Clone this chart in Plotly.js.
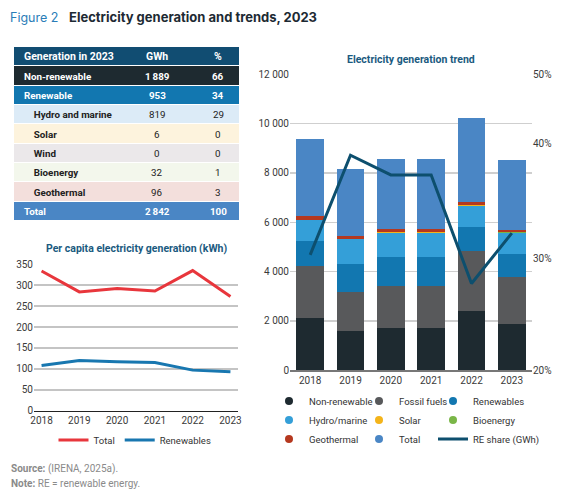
<!DOCTYPE html>
<html>
<head>
<meta charset="utf-8">
<script src="https://cdn.plot.ly/plotly-3.0.1.min.js"></script>
<style>
  html, body { margin: 0; padding: 0; background: #ffffff; }
  #chart { width: 564px; height: 499px; }
</style>
</head>
<body>
<div id="chart"></div>
<script>
// ---------- data ----------
const years = ['2018', '2019', '2020', '2021', '2022', '2023'];

// Per capita electricity generation (kWh)
const perCapitaTotal = [334, 284, 292, 286, 335, 273];
const perCapitaRenewables = [108, 120, 117, 115, 97, 93];

// Electricity generation trend (GWh), stacked as in the source figure
const nonRenewable = [2133, 1595, 1715, 1715, 2404, 1889];
const fossilFuels = [2095, 1580, 1715, 1715, 2432, 1889];
const renewables = [1013, 1135, 1176, 1176, 972, 953];
const hydroMarine = [851, 1000, 974, 974, 865, 819];
const solar = [3, 12, 35, 35, 25, 6];
const bioenergy = [5, 20, 12, 12, 10, 32];
const geothermal = [165, 100, 100, 100, 125, 96];
const totalGen = [3111, 2730, 2840, 2840, 3405, 2842];
const reShare = [31.7, 41.8, 39.8, 39.8, 28.8, 33.9];

// Table: generation in 2023
const tableHeader = ['Generation in 2023', 'GWh', '%'];
const tableLabels = ['Non-renewable', 'Renewable', 'Hydro and marine', 'Solar', 'Wind', 'Bioenergy', 'Geothermal', 'Total'];
const tableGWh = ['1\u2009889', '953', '819', '6', '0', '32', '96', '2\u2009842'];
const tablePct = ['66', '34', '29', '0', '0', '1', '3', '100'];

// right axis labels
const shareTickText = ['20%', '30%', '40%', '50%'];

// ---------- styling ----------
const W = 564, H = 499;
const px = v => v / W;
const py = v => 1 - v / H;
const FONT = 'Roboto, sans-serif';
const C = {
  nonRen: '#1e2a30', fossil: '#58595b', ren: '#1277b0', hydro: '#349fd8',
  solar: '#f4b41a', bio: '#7ab648', geo: '#b5381f', total: '#4a86c5',
  share: '#0d4f6e', red: '#e8363c', blue: '#1877b0', titleBlue: '#1a5a80'
};

// table row styling (header + 8 rows)
const rowFill = ['#114d72', '#1e2a30', '#1277b0', '#dcebf7', '#fdf3dd', '#ebe8ea', '#f3f7ec', '#f3dfdc', '#4a86c5'];
const rowFont = ['#ffffff', '#ffffff', '#ffffff', '#222222', '#222222', '#222222', '#222222', '#222222', '#ffffff'];
const subRow = [false, false, false, true, true, true, true, true, false];
const darkRow = [true, true, true, false, false, false, false, false, true];
const colPos = [0.034, 0.636, 0.907];   // within table domain: left text start, GWh center, % center

const traces = [];

// table background rows: heatmap with one column, one row per table line
const rowCol1 = [tableHeader[0]].concat(tableLabels);
const rowCol2 = [tableHeader[1]].concat(tableGWh);
const rowCol3 = [tableHeader[2]].concat(tablePct);
const rowIdx = rowCol1.map((_, i) => i);
const nRows = rowIdx.length;
traces.push({
  type: 'heatmap', x: [0], y: rowIdx, z: rowIdx.map(i => [i]),
  xaxis: 'x3', yaxis: 'y4', zmin: 0, zmax: nRows - 1,
  colorscale: rowFill.map((c, i) => [i / (nRows - 1), c]),
  showscale: false, ygap: 1, hoverinfo: 'skip'
});

// per capita lines
traces.push({
  type: 'scatter', mode: 'lines', name: 'Total', x: years, y: perCapitaTotal,
  xaxis: 'x', yaxis: 'y', line: { color: C.red, width: 3 }, legend: 'legend', legendrank: 1
});
traces.push({
  type: 'scatter', mode: 'lines', name: 'Renewables', x: years, y: perCapitaRenewables,
  xaxis: 'x', yaxis: 'y', line: { color: C.blue, width: 3 }, legend: 'legend', legendrank: 2
});

// stacked bars
const barSeries = [
  ['Non-renewable', nonRenewable, C.nonRen, 'legend2', 1],
  ['Fossil fuels', fossilFuels, C.fossil, 'legend3', 1],
  ['Renewables', renewables, C.ren, 'legend4', 1],
  ['Hydro/marine', hydroMarine, C.hydro, 'legend2', 2],
  ['Solar', solar, C.solar, 'legend3', 2],
  ['Bioenergy', bioenergy, C.bio, 'legend4', 2],
  ['Geothermal', geothermal, C.geo, 'legend2', 3],
  ['Total', totalGen, C.total, 'legend3', 3]
];
barSeries.forEach(([name, vals, color]) => {
  traces.push({
    type: 'bar', name: name, x: years, y: vals, xaxis: 'x2', yaxis: 'y2',
    marker: { color: color, line: { width: 0 } }, showlegend: false,
    hovertemplate: name + ' %{x}: %{y}<extra></extra>'
  });
});
// RE share line
traces.push({
  type: 'scatter', mode: 'lines', name: 'RE share (GWh)', x: years, y: reShare,
  xaxis: 'x2', yaxis: 'y3', line: { color: C.share, width: 3 },
  legend: 'legend4', legendrank: 3
});
// legend markers (circles) for the bar series
barSeries.forEach(([name, vals, color, lg, rank]) => {
  traces.push({
    type: 'scatter', mode: 'markers', name: name, x: [null], y: [null],
    xaxis: 'x2', yaxis: 'y2', marker: { color: color, size: 8, symbol: 'circle' },
    legend: lg, legendrank: rank, hoverinfo: 'skip'
  });
});

const tickFont = { family: FONT, size: 10, color: '#3a3a3a' };
const legendFont = { family: FONT, size: 9.5, color: '#333333' };

function colLegend(x) {
  return {
    x: px(x), xanchor: 'left', y: py(386.5), yanchor: 'top', orientation: 'v',
    traceorder: 'normal',
    bgcolor: 'rgba(0,0,0,0)', font: legendFont, tracegroupgap: 0, itemclick: false, itemdoubleclick: false
  };
}

// table text annotations
const tableAnn = [];
rowIdx.forEach(i => {
  const f = { family: FONT, size: i === 0 ? 10.5 : 9.8, color: rowFont[i] };
  const lab = (subRow[i] ? '\u00a0\u00a0\u00a0\u00a0' : '') + '<b>' + rowCol1[i] + '</b>';
  const v2 = darkRow[i] ? '<b>' + rowCol2[i] + '</b>' : rowCol2[i];
  const v3 = darkRow[i] ? '<b>' + rowCol3[i] + '</b>' : rowCol3[i];
  tableAnn.push({ text: lab, xref: 'x3 domain', yref: 'y4', x: colPos[0], y: i, xanchor: 'left', yanchor: 'middle', showarrow: false, font: f });
  tableAnn.push({ text: v2, xref: 'x3 domain', yref: 'y4', x: colPos[1], y: i, xanchor: 'center', yanchor: 'middle', showarrow: false, font: f });
  tableAnn.push({ text: v3, xref: 'x3 domain', yref: 'y4', x: colPos[2], y: i, xanchor: 'center', yanchor: 'middle', showarrow: false, font: f });
});

const layout = {
  width: W, height: H,
  margin: { l: 0, r: 0, t: 0, b: 0 },
  paper_bgcolor: '#ffffff', plot_bgcolor: 'rgba(0,0,0,0)',
  separators: '. ',
  barmode: 'stack', bargap: 0.31,
  showlegend: true,
  font: { family: FONT, size: 10, color: '#333' },
  xaxis: {
    domain: [px(34), px(238)], type: 'category', range: [-0.2, 5.2],
    showgrid: false, showline: true, linecolor: '#222', linewidth: 1.5,
    ticks: '', tickfont: tickFont, anchor: 'y', fixedrange: true
  },
  yaxis: {
    domain: [py(410.7), py(264.3)], range: [0, 350], dtick: 50,
    showgrid: true, gridcolor: '#c4c4c4', gridwidth: 1.5, zeroline: false,
    showline: false, ticks: '', tickfont: tickFont, anchor: 'x', fixedrange: true
  },
  xaxis2: {
    domain: [px(290), px(532)], type: 'category',
    showgrid: false, showline: true, linecolor: '#777', linewidth: 1.5,
    ticks: '', tickfont: tickFont, anchor: 'y2', fixedrange: true
  },
  yaxis2: {
    domain: [py(370.3), py(74.3)], range: [0, 12000], dtick: 2000,
    tickformat: ',d', separatethousands: true,
    showgrid: true, gridcolor: '#cfcfcf', gridwidth: 1.5, zeroline: false,
    showline: false, ticks: '', tickfont: tickFont, anchor: 'x2', fixedrange: true
  },
  yaxis3: {
    overlaying: 'y2', side: 'right', anchor: 'x2', range: [20, 50],
    tickmode: 'array', tickvals: [20, 31.3, 43, 50], ticktext: shareTickText,
    showgrid: false, zeroline: false, showline: false, ticks: '',
    tickfont: tickFont, fixedrange: true
  },
  xaxis3: {
    domain: [px(14), px(239)], range: [-0.5, 0.5], visible: false, fixedrange: true, anchor: 'y4'
  },
  yaxis4: {
    domain: [py(221), py(47)], range: [nRows - 0.5, -0.5], visible: false, fixedrange: true, anchor: 'x3'
  },
  legend: {
    x: px(135), xanchor: 'center', y: py(440), yanchor: 'middle', orientation: 'h',
    traceorder: 'normal',
    bgcolor: 'rgba(0,0,0,0)', font: legendFont, itemclick: false, itemdoubleclick: false
  },
  legend2: colLegend(269),
  legend3: colLegend(359),
  legend4: colLegend(433),
  annotations: tableAnn.concat([
    { text: 'Figure 2', x: px(8), y: py(17), xref: 'paper', yref: 'paper', xanchor: 'left', yanchor: 'middle',
      showarrow: false, font: { family: 'Inter, sans-serif', size: 12.5, color: '#2a7db8' } },
    { text: '<b>Electricity generation and trends, 2023</b>', x: px(67), y: py(17), xref: 'paper', yref: 'paper',
      xanchor: 'left', yanchor: 'middle', showarrow: false,
      font: { family: 'Inter, sans-serif', size: 13, color: '#1d2a33' } },
    { text: '<b>Per capita electricity generation (kWh)</b>', x: px(136), y: py(249), xref: 'paper', yref: 'paper',
      xanchor: 'center', yanchor: 'middle', showarrow: false,
      font: { family: FONT, size: 10.5, color: C.titleBlue } },
    { text: '<b>Electricity generation trend</b>', x: px(411), y: py(59), xref: 'paper', yref: 'paper',
      xanchor: 'center', yanchor: 'middle', showarrow: false,
      font: { family: FONT, size: 10.5, color: C.titleBlue } },
    { text: '<b>Source:</b> (IRENA, 2025a).', x: px(9), y: py(469), xref: 'paper', yref: 'paper',
      xanchor: 'left', yanchor: 'middle', showarrow: false,
      font: { family: FONT, size: 10, color: '#8a8a8a' } },
    { text: '<b>Note:</b> RE = renewable energy.', x: px(9), y: py(483), xref: 'paper', yref: 'paper',
      xanchor: 'left', yanchor: 'middle', showarrow: false,
      font: { family: FONT, size: 10, color: '#8a8a8a' } }
  ])
};

Plotly.newPlot('chart', traces, layout, { staticPlot: true, displayModeBar: false });
</script>
</body>
</html>
